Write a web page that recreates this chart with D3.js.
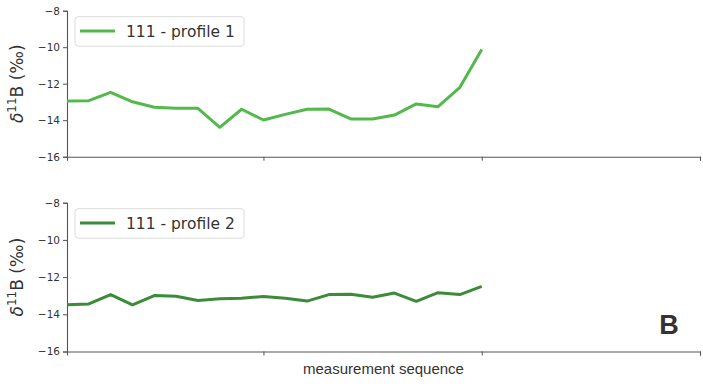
<!DOCTYPE html>
<html>
<head>
<meta charset="utf-8">
<script src="https://cdn.jsdelivr.net/npm/d3@7"></script>
<style>
  html, body { margin: 0; padding: 0; background: #fff; }
  svg { display: block; }
</style>
</head>
<body>
<svg id="chart" width="703" height="386"></svg>
<script>
// measurement index along each profile
const sequence = [1, 2, 3, 4, 5, 6, 7, 8, 9, 10, 11, 12, 13, 14, 15, 16, 17, 18, 19, 20];

// δ11B values (‰) for the two profiles of sample 111
const profile1 = [-12.95, -12.93, -12.47, -12.99, -13.29, -13.35, -13.35, -14.39, -13.40, -13.99,
                  -13.68, -13.40, -13.39, -13.93, -13.93, -13.72, -13.11, -13.26, -12.20, -10.12];
const profile2 = [-13.49, -13.44, -12.94, -13.49, -12.99, -13.03, -13.26, -13.17, -13.14, -13.04,
                  -13.14, -13.29, -12.94, -12.92, -13.08, -12.86, -13.30, -12.84, -12.94, -12.50];

const seriesNames = ["111 - profile 1", "111 - profile 2"];
const seriesColors = ["#52b94a", "#3a8c38"];

const xDomain = [1, 30];
const xTicks = [10, 20, 30];
const yDomain = [-16, -8];
const yTicks = [-16, -14, -12, -10, -8];

const svg = d3.select("#chart");

const left = 67, right = 700;
const panels = [
  { values: profile1, name: seriesNames[0], color: seriesColors[0], top: 10.7, bottom: 156.7 },
  { values: profile2, name: seriesNames[1], color: seriesColors[1], top: 202.7, bottom: 351.5 }
];

const x = d3.scaleLinear().domain(xDomain).range([left, right]);

panels.forEach(p => {
  const y = d3.scaleLinear().domain(yDomain).range([p.bottom, p.top]);
  const g = svg.append("g");

  // left spine with outward ticks
  const yAxis = g.append("g")
    .attr("transform", `translate(${left},0)`)
    .call(d3.axisLeft(y).tickValues(yTicks).tickSize(4).tickPadding(3).tickFormat(d3.format("d")));
  yAxis.select(".domain").attr("stroke", "#555").attr("stroke-width", 1.1);
  yAxis.selectAll(".tick line").attr("stroke", "#555");
  yAxis.selectAll(".tick text")
    .attr("fill", "#333")
    .style("font-family", "DejaVu Sans")
    .style("font-size", "10.5px");

  // bottom spine, ticks only
  const xAxis = g.append("g")
    .attr("transform", `translate(0,${p.bottom})`)
    .call(d3.axisBottom(x).tickValues(xTicks).tickSize(4).tickFormat(""));
  xAxis.select(".domain").attr("stroke", "#555").attr("stroke-width", 1.1);
  xAxis.selectAll(".tick line").attr("stroke", "#555");

  // y-axis title
  const cy = (p.top + p.bottom) / 2;
  const title = g.append("text")
    .attr("transform", `translate(23,${cy}) rotate(-90)`)
    .attr("text-anchor", "middle")
    .attr("fill", "#333")
    .style("font-family", "DejaVu Sans")
    .style("font-size", "17px");
  title.append("tspan").style("font-style", "italic").text("δ");
  title.append("tspan").attr("dy", -7).style("font-size", "12px").text("11");
  title.append("tspan").attr("dy", 7).text("B (‰)");

  // profile line
  const line = d3.line()
    .x((d, i) => x(sequence[i]))
    .y(d => y(d));
  g.append("path")
    .datum(p.values)
    .attr("d", line)
    .attr("fill", "none")
    .attr("stroke", p.color)
    .attr("stroke-width", 3)
    .attr("stroke-linejoin", "round");

  // legend
  const lg = g.append("g").attr("transform", `translate(75,${p.top + 6})`);
  lg.append("rect")
    .attr("width", 169).attr("height", 29.5)
    .attr("rx", 3).attr("ry", 3)
    .attr("fill", "#fff").attr("fill-opacity", 0.85)
    .attr("stroke", "#dcdcdc").attr("stroke-width", 1);
  lg.append("line")
    .attr("x1", 5).attr("x2", 40)
    .attr("y1", 14.3).attr("y2", 14.3)
    .attr("stroke", p.color).attr("stroke-width", 3);
  lg.append("text")
    .attr("x", 51).attr("y", 20)
    .attr("fill", "#333")
    .style("font-family", "DejaVu Sans")
    .style("font-size", "15.5px")
    .text(p.name);
});

// shared x-axis title
svg.append("text")
  .attr("x", (left + right) / 2)
  .attr("y", 374)
  .attr("text-anchor", "middle")
  .attr("fill", "#333")
  .style("font-family", "Liberation Sans")
  .style("font-size", "15px")
  .text("measurement sequence");

// panel letter
svg.append("text")
  .attr("x", 669)
  .attr("y", 334)
  .attr("text-anchor", "middle")
  .attr("fill", "#333")
  .style("font-family", "Liberation Sans")
  .style("font-weight", "bold")
  .style("font-size", "27px")
  .text("B");
</script>
</body>
</html>
